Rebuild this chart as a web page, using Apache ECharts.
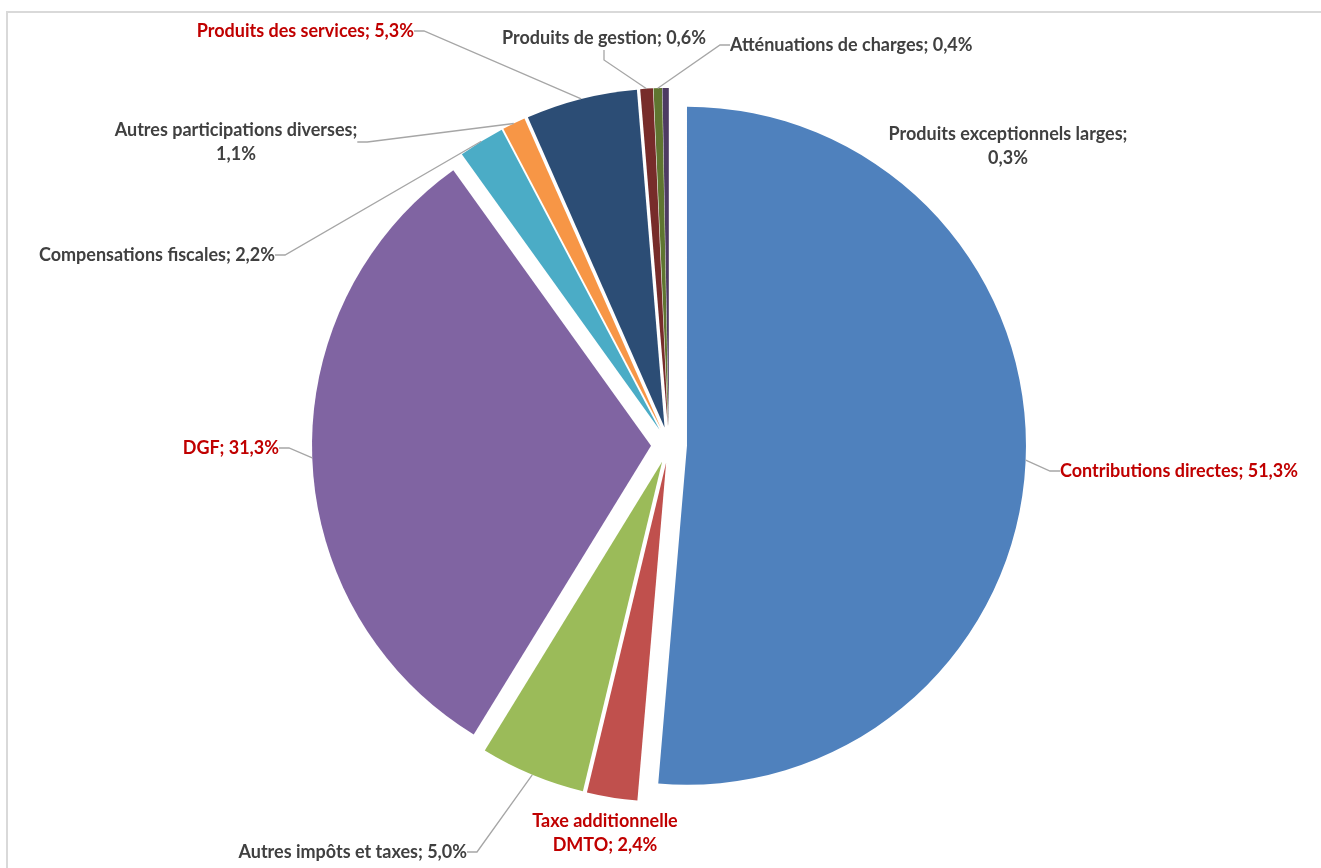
<!DOCTYPE html>
<html>
<head>
<meta charset="utf-8">
<script src="https://cdn.jsdelivr.net/npm/echarts@6/dist/echarts.min.js"></script>
<style>
  html, body { margin: 0; padding: 0; background: #ffffff; }
  #chart { width: 1321px; height: 868px; }
</style>
</head>
<body>
<div id="chart"></div>
<script>
// Recettes de fonctionnement : répartition en pourcentage
const categories = [
  'Contributions directes',
  'Taxe additionnelle DMTO',
  'Autres impôts et taxes',
  'DGF',
  'Compensations fiscales',
  'Autres participations diverses',
  'Produits des services',
  'Produits de gestion',
  'Atténuations de charges',
  'Produits exceptionnels larges'
];
const shares = [51.3, 2.4, 5.0, 31.3, 2.2, 1.1, 5.3, 0.6, 0.4, 0.3];

// Slice fills and label colours
const sliceColors = ['#4F81BD', '#C0504D', '#9BBB59', '#8064A2', '#4BACC6',
                     '#F79646', '#2C4D75', '#772C2A', '#5F7530', '#4D3B62'];
const highlighted = [true, true, false, true, false, false, true, false, false, false];
// Where a label wraps: 'name' breaks inside the name, 'value' before the value
const wrapMode = ['none', 'name', 'none', 'none', 'none', 'value', 'none', 'none', 'none', 'value'];
const hideLeader = [false, true, false, false, false, false, false, false, false, true];

// Label placement: [x, y, align]
const labelSpots = [
  [1060, 471, 'left'],
  [605, 833, 'center'],
  [467, 852, 'right'],
  [279, 448, 'right'],
  [275, 255, 'right'],
  [236, 142, 'center'],
  [414, 31, 'right'],
  [604, 38, 'center'],
  [730, 45, 'left'],
  [1008, 146, 'center']
];

const PIE_CENTER = [669, 445];
const PIE_RADIUS = 339;
const EXPLODE = 18;

function fmtPct(v) {
  return v.toFixed(1).replace('.', ',') + '%';
}

function labelText(i) {
  const name = categories[i];
  const pct = fmtPct(shares[i]);
  if (wrapMode[i] === 'name') {
    const k = name.lastIndexOf(' ');
    return name.slice(0, k) + '\n' + name.slice(k + 1) + '; ' + pct;
  }
  if (wrapMode[i] === 'value') return name + ';\n' + pct;
  return name + '; ' + pct;
}

// Exploded slices (every slice pulled out from the centre)
const sliceData = categories.map((name, i) => ({
  name: name,
  value: shares[i],
  selected: true,
  itemStyle: { color: sliceColors[i] }
}));

// Transparent twin ring reaching the exploded outer edge, carrying the labels
const labelData = categories.map((name, i) => ({
  name: name,
  value: shares[i],
  itemStyle: { color: 'rgba(0,0,0,0)' },
  label: { color: highlighted[i] ? '#C00000' : '#404040' },
  labelLine: { show: !hideLeader[i] }
}));

const chart = echarts.init(document.getElementById('chart'), null, { renderer: 'canvas' });

chart.setOption({
  backgroundColor: '#ffffff',
  animation: false,
  graphic: [{
    type: 'rect',
    shape: { x: 7, y: 12, width: 1400, height: 900 },
    style: { fill: 'none', stroke: '#D9D9D9', lineWidth: 2 },
    silent: true,
    z: -10
  }],
  series: [{
    type: 'pie',
    center: PIE_CENTER,
    radius: [0, PIE_RADIUS],
    startAngle: 90,
    clockwise: true,
    selectedMode: 'multiple',
    selectedOffset: EXPLODE,
    itemStyle: { borderWidth: 0 },
    emphasis: { disabled: true },
    label: { show: false },
    labelLine: { show: false },
    silent: true,
    data: sliceData
  }, {
    type: 'pie',
    center: PIE_CENTER,
    radius: [0, PIE_RADIUS + EXPLODE],
    startAngle: 90,
    clockwise: true,
    selectedMode: false,
    avoidLabelOverlap: false,
    minShowLabelAngle: 0,
    silent: true,
    z: 3,
    itemStyle: { borderWidth: 0 },
    emphasis: { disabled: true },
    label: {
      show: true,
      position: 'outer',
      fontFamily: 'Lato',
      fontWeight: 'bold',
      fontSize: 18,
      lineHeight: 24,
      align: 'center',
      formatter: p => labelText(p.dataIndex)
    },
    labelLine: {
      show: true,
      length: 10,
      length2: 10,
      lineStyle: { color: '#A6A6A6', width: 1.3 }
    },
    labelLayout: p => {
      const s = labelSpots[p.dataIndex];
      return { x: s[0], y: s[1], align: s[2], verticalAlign: 'middle' };
    },
    data: labelData
  }]
});
</script>
</body>
</html>
